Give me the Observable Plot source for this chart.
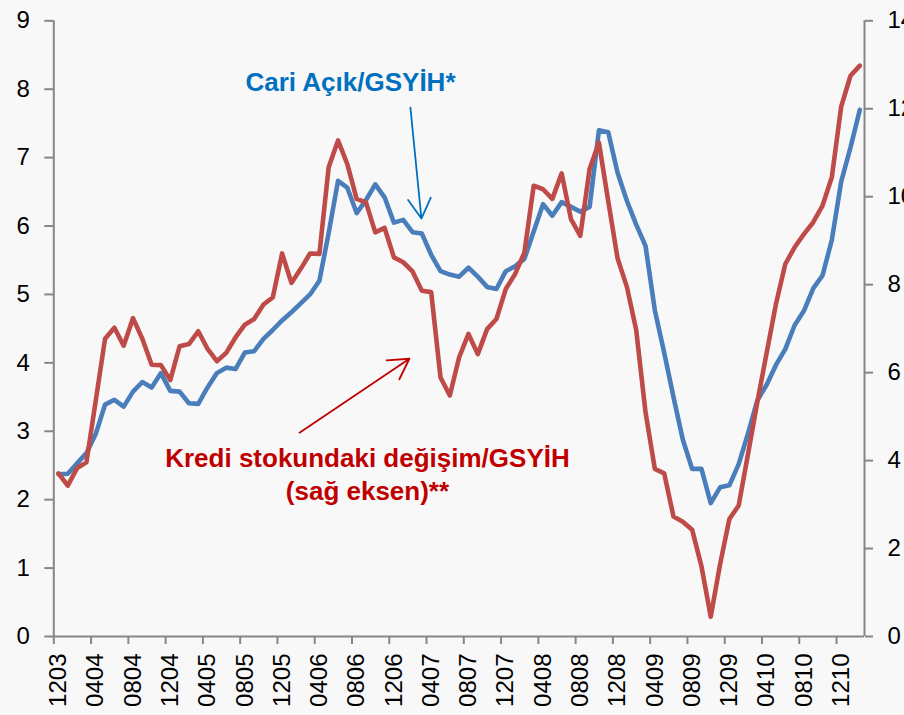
<!DOCTYPE html>
<html><head><meta charset="utf-8">
<script src="https://cdn.jsdelivr.net/npm/d3@7"></script>
<script src="https://cdn.jsdelivr.net/npm/@observablehq/plot@0.6"></script>
<style>html,body{margin:0;padding:0;background:#f8f8f8;overflow:hidden;}</style>
</head><body><div id="chart"></div>
<script>
// Month categories (MMYY), Dec 2003 – Feb 2011
const months = ["1203",
"0104","0204","0304","0404","0504","0604","0704","0804","0904","1004","1104","1204",
"0105","0205","0305","0405","0505","0605","0705","0805","0905","1005","1105","1205",
"0106","0206","0306","0406","0506","0606","0706","0806","0906","1006","1106","1206",
"0107","0207","0307","0407","0507","0607","0707","0807","0907","1007","1107","1207",
"0108","0208","0308","0408","0508","0608","0708","0808","0908","1008","1108","1208",
"0109","0209","0309","0409","0509","0609","0709","0809","0909","1009","1109","1209",
"0110","0210","0310","0410","0510","0610","0710","0810","0910","1010","1110","1210",
"0111","0211"];

// Cari Açık/GSYİH (left axis, %)
const cari = [2.37,2.38,2.53,2.68,2.96,3.39,3.46,3.36,3.58,3.72,3.64,3.85,3.59,
3.58,3.41,3.40,3.64,3.85,3.93,3.91,4.15,4.17,4.35,4.48,4.62,
4.74,4.87,5.00,5.20,5.90,6.66,6.56,6.19,6.38,6.61,6.42,6.05,
6.09,5.91,5.89,5.58,5.34,5.29,5.26,5.39,5.26,5.11,5.08,5.34,
5.41,5.52,5.92,6.32,6.15,6.35,6.28,6.21,6.28,7.40,7.37,6.78,
6.37,6.02,5.71,4.77,4.15,3.50,2.88,2.45,2.45,1.95,2.18,2.21,
2.52,2.97,3.45,3.68,3.97,4.20,4.55,4.76,5.09,5.28,5.80,6.65,
7.15,7.70];

// Kredi stokundaki değişim/GSYİH (right axis, %)
const kredi = [3.71,3.43,3.83,3.96,5.36,6.77,7.02,6.61,7.24,6.77,6.18,6.17,5.83,
6.60,6.65,6.94,6.54,6.26,6.45,6.80,7.09,7.22,7.55,7.71,8.71,
8.04,8.36,8.71,8.70,10.67,11.28,10.74,9.95,9.87,9.19,9.29,8.62,
8.51,8.30,7.86,7.83,5.89,5.48,6.35,6.88,6.42,6.99,7.22,7.90,
8.24,8.73,10.25,10.17,9.95,10.53,9.49,9.11,10.63,11.23,9.90,8.60,
7.95,6.97,5.10,3.81,3.71,2.73,2.61,2.43,1.60,0.45,1.64,2.67,
2.98,4.15,5.33,6.45,7.56,8.47,8.85,9.15,9.42,9.80,10.45,12.05,
12.75,12.98];

const tickLabels = ["1203","0404","0804","1204","0405","0805","1205","0406","0806","1206","0407",
"0807","1207","0408","0808","1208","0409","0809","1209","0410","0810","1210"];
const leftTicks = [0,1,2,3,4,5,6,7,8,9];
const rightTicks = [0,2,4,6,8,10,12,14];
const leftMax = 9, rightMax = 14;

const annotations = [
  {label: "Cari Açık/GSYİH*", x: 31.84, y: 7.98, color: "#0070C0"},
  {label: "Kredi stokundaki değişim/GSYİH\n(sağ eksen)**", x: 33.66, y: 2.0, color: "#C00000"}
];
const arrows = [
  {x1: 38.27, y1: 7.73, x2: 39.45, y2: 6.11, color: "#0070C0"},
  {x1: 26.37, y1: 2.98, x2: 38.16, y2: 4.06, color: "#C00000"}
];

const rows = months.map((m, i) => ({i, m, cari: cari[i], kredi: kredi[i]}));
const toLeft = v => v * leftMax / rightMax;
const axisColor = "#868686";
const font = "'Liberation Sans', Arial, sans-serif";

const chart = Plot.plot({
  width: 904,
  height: 715,
  marginLeft: 53.3,
  marginRight: 40,
  marginTop: 20.3,
  marginBottom: 79,
  style: {background: "#f8f8f8", fontFamily: font},
  x: {type: "linear", domain: [0, months.length], axis: null},
  y: {domain: [0, leftMax], axis: null},
  marks: [
    Plot.axisY({anchor: "left", ticks: leftTicks, tickSize: 9, tickPadding: 15, fontSize: 24, stroke: axisColor, strokeWidth: 2, fill: "#000", tickFormat: d => String(d)}),
    Plot.axisY({anchor: "right", ticks: rightTicks.map(toLeft), tickSize: 8, tickPadding: 15, fontSize: 24, stroke: axisColor, strokeWidth: 2, fill: "#000", tickFormat: d => String(Math.round(d * rightMax / leftMax))}),
    Plot.axisX({anchor: "bottom", ticks: tickLabels.map(l => months.indexOf(l)), tickSize: 8, stroke: axisColor, strokeWidth: 2, tickFormat: () => ""}),
    Plot.axisX({anchor: "bottom", ticks: tickLabels.map(l => months.indexOf(l) + 0.5), tickSize: 0, tickPadding: 17, tickRotate: -90, fontSize: 24, fill: "#000", tickFormat: d => months[Math.floor(d)]}),
    Plot.ruleX([0, months.length], {stroke: axisColor, strokeWidth: 2}),
    Plot.ruleY([0], {stroke: axisColor, strokeWidth: 2}),
    Plot.line(rows, {x: d => d.i + 0.5, y: "cari", stroke: "#4A7EBB", strokeWidth: 4.6, strokeLinejoin: "round", strokeLinecap: "round"}),
    Plot.line(rows, {x: d => d.i + 0.5, y: d => toLeft(d.kredi), stroke: "#BE4B48", strokeWidth: 4.6, strokeLinejoin: "round", strokeLinecap: "round"}),
    Plot.arrow(arrows, {x1: "x1", y1: "y1", x2: "x2", y2: "y2", stroke: "color", strokeWidth: 1.8, headLength: 19, headAngle: 60}),
    Plot.text(annotations, {x: "x", y: "y", text: "label", fill: "color", fontSize: 26, fontWeight: "bold", textAnchor: "middle", lineAnchor: "bottom", lineHeight: 1.25})
  ]
});
document.getElementById("chart").appendChild(chart);
</script>
</body></html>
